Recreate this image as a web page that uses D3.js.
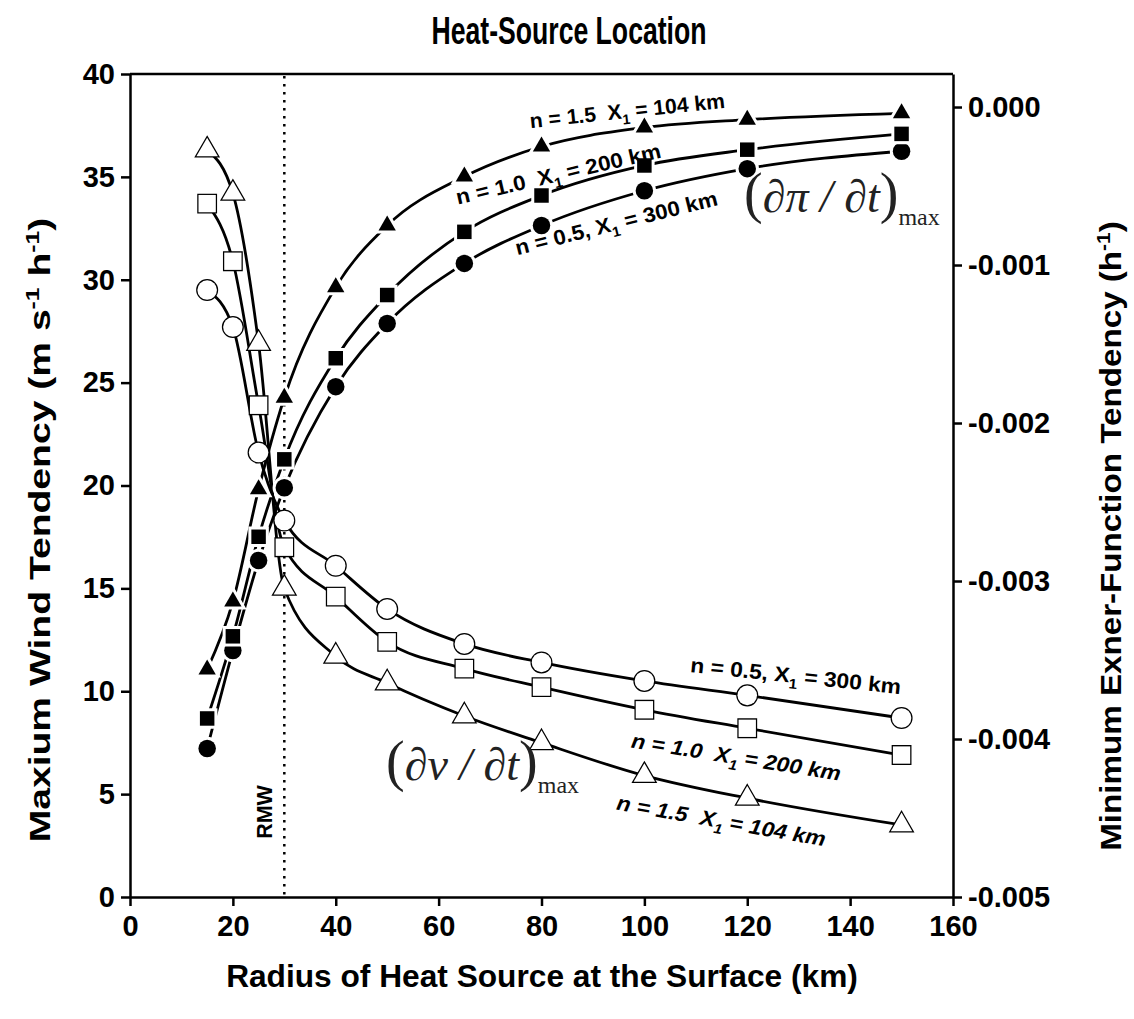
<!DOCTYPE html>
<html>
<head>
<meta charset="utf-8">
<script src="https://cdn.jsdelivr.net/npm/d3@7"></script>
<style>
  body { margin: 0; background: #fff; }
  svg { display: block; }
  text { font-family: "Liberation Sans", Arial, sans-serif; fill: #000; white-space: pre; }
</style>
</head>
<body>
<svg id="chart" width="1134" height="1019"></svg>
<script>
// radius of heat source (km)
const radius = [15, 20, 25, 30, 40, 50, 65, 80, 100, 120, 150];

// max wind tendency (m s-1 h-1), open markers, left axis
const windN05 = [29.5, 27.7, 21.6, 18.3, 16.1, 14.0, 12.3, 11.4, 10.5, 9.8, 8.7];
const windN10 = [33.7, 30.9, 23.9, 17.0, 14.6, 12.4, 11.1, 10.2, 9.1, 8.2, 6.9];
const windN15 = [36.3, 34.2, 26.9, 15.0, 11.7, 10.4, 8.8, 7.5, 5.9, 4.8, 3.5];

// min Exner-function tendency (h-1), filled markers, right axis
const exnerN05 = [-0.00406, -0.00344, -0.00287, -0.00241, -0.00177, -0.00137, -0.00099, -0.00075, -0.00053, -0.00039, -0.00028];
const exnerN10 = [-0.00387, -0.00335, -0.00272, -0.00223, -0.00159, -0.00119, -0.00079, -0.00056, -0.00037, -0.00027, -0.00017];
const exnerN15 = [-0.00356, -0.00313, -0.00242, -0.00184, -0.00114, -0.00075, -0.00044, -0.00025, -0.00013, -0.00008, -0.00004];

const xTicks = [0, 20, 40, 60, 80, 100, 120, 140, 160];
const leftTicks = [0, 5, 10, 15, 20, 25, 30, 35, 40];
const rightTicks = [-0.005, -0.004, -0.003, -0.002, -0.001, 0];
const rmw = 30;

const svg = d3.select("#chart");

const x = d3.scaleLinear().domain([0, 160]).range([130, 953]);
const yL = d3.scaleLinear().domain([0, 40]).range([897, 74]);
const yR = d3.scaleLinear().domain([-0.005, 0.000209]).range([897, 74]);

/**
 * Style an axis group like the reference (thick black lines, bold labels)
 */
function styleAxis(g) {
    g.select(".domain").attr("stroke", "#000").attr("stroke-width", 2.5);
    g.selectAll(".tick line").attr("stroke", "#000").attr("stroke-width", 2.5);
    g.selectAll(".tick text")
        .attr("fill", "#000")
        .style("font-family", "'Liberation Sans', Arial, sans-serif")
        .style("font-weight", "bold")
        .style("font-size", "29px");
}

/**
 * Squeeze or stretch a text along its own direction to a given length
 */
function placeText(sel, cx, cy, angle, len) {
    const w = sel.node().getBBox().width;
    const s = len ? len / w : 1;
    sel.attr("text-anchor", "middle")
        .attr("transform", `translate(${cx},${cy}) rotate(${angle}) scale(${s},1)`);
    return sel;
}

svg.append("g")
    .attr("transform", "translate(0,897)")
    .call(d3.axisBottom(x).tickValues(xTicks).tickSize(9).tickSizeOuter(0).tickPadding(9))
    .call(styleAxis);

svg.append("g")
    .attr("transform", "translate(130,0)")
    .call(d3.axisLeft(yL).tickValues(leftTicks).tickSize(9).tickSizeOuter(0).tickPadding(6))
    .call(styleAxis);

svg.append("g")
    .attr("transform", "translate(953,0)")
    .call(d3.axisRight(yR).tickValues(rightTicks).tickSize(9).tickSizeOuter(0).tickPadding(6)
        .tickFormat((d) => (d === 0 ? "0.000" : d.toFixed(3))))
    .call(styleAxis);

// top frame line
svg.append("line")
    .attr("x1", 130).attr("x2", 953).attr("y1", 74).attr("y2", 74)
    .attr("stroke", "#000").attr("stroke-width", 2.5);

// RMW dotted line
svg.append("line")
    .attr("x1", x(rmw)).attr("x2", x(rmw)).attr("y1", 76).attr("y2", 895)
    .attr("stroke", "#000").attr("stroke-width", 2.5)
    .attr("stroke-dasharray", "2.5,5.5");

placeText(svg.append("text")
    .style("font-weight", "bold").style("font-size", "22px")
    .text("RMW"), x(rmw) - 12, 812, -90, 54);

// series
const series = [
    { vals: windN05, y: yL, shape: d3.symbolCircle, size: 300, open: true },
    { vals: windN10, y: yL, shape: d3.symbolSquare, size: 300, open: true },
    { vals: windN15, y: yL, shape: d3.symbolTriangle, size: 200, open: true },
    { vals: exnerN05, y: yR, shape: d3.symbolCircle, size: 240, open: false },
    { vals: exnerN10, y: yR, shape: d3.symbolSquare, size: 210, open: false },
    { vals: exnerN15, y: yR, shape: d3.symbolTriangle, size: 130, open: false },
];

const lineLayer = svg.append("g");
const markLayer = svg.append("g");

series.forEach((s) => {
    const pts = radius.map((r, i) => [x(r), s.y(s.vals[i])]);
    lineLayer.append("path")
        .attr("d", d3.line().curve(d3.curveMonotoneX)(pts))
        .attr("fill", "none")
        .attr("stroke", "#000")
        .attr("stroke-width", 2.8);

    markLayer.selectAll(null)
        .data(pts)
        .enter()
        .append("path")
        .attr("transform", (d) => `translate(${d[0]},${d[1]})`)
        .attr("d", d3.symbol().type(s.shape).size(s.size))
        .attr("fill", s.open ? "#fff" : "#000")
        .attr("stroke", s.open ? "#000" : "#fff")
        .attr("stroke-width", s.open ? 2.5 : 6)
        .style("paint-order", "stroke");
});

// curve labels
function curveLabel(cx, cy, angle, head, x1, italic, len) {
    const t = svg.append("text")
        .style("font-weight", "bold")
        .style("font-size", "21px")
        .style("font-style", italic ? "italic" : "normal");
    t.append("tspan").text(`${head}X`);
    t.append("tspan").attr("dy", 6).style("font-size", "14px").text("1");
    t.append("tspan").attr("dy", -6).text(` = ${x1} km`);
    placeText(t, cx, cy, angle, len);
}

curveLabel(628, 118, -6, "n = 1.5  ", "104", false, 196);
curveLabel(560, 181, -13, "n = 1.0  ", "200", false, 210);
curveLabel(618, 230, -14, "n = 0.5, ", "300", false, 208);
curveLabel(795, 683, 6, "n = 0.5, ", "300", false, 212);
curveLabel(735, 764, 9, "n = 1.0  ", "200", true, 212);
curveLabel(720, 828, 10, "n = 1.5  ", "104", true, 212);

// derivative labels
function mathLabel(px, py, sym) {
    const t = svg.append("text")
        .attr("x", px).attr("y", py)
        .style("font-family", "'Liberation Serif', 'Times New Roman', serif")
        .style("fill", "#222");
    t.append("tspan").style("font-size", "56px").text("(");
    t.append("tspan").style("font-size", "46px").style("font-style", "italic").text(`\u2202${sym} / \u2202t`);
    t.append("tspan").style("font-size", "56px").text(")");
    t.append("tspan").attr("dy", 13).style("font-size", "24px").text("max");
}

mathLabel(744, 212, "\u03c0");
mathLabel(386, 780, "v");

// titles
placeText(svg.append("text")
    .style("font-weight", "bold").style("font-size", "38px")
    .text("Heat-Source Location"), 569, 44, 0, 275);

placeText(svg.append("text")
    .style("font-weight", "bold").style("font-size", "31px")
    .text("Radius of Heat Source at the Surface (km)"), 542, 987, 0, 632);

const yt = svg.append("text")
    .style("font-weight", "bold").style("font-size", "30px");
yt.append("tspan").text("Maxium Wind Tendency (m s");
yt.append("tspan").attr("dy", -11).style("font-size", "19px").text("-1");
yt.append("tspan").attr("dy", 11).text(" h");
yt.append("tspan").attr("dy", -11).style("font-size", "19px").text("-1");
yt.append("tspan").attr("dy", 11).text(")");
placeText(yt, 50, 530, -90, 625);

const rt = svg.append("text")
    .style("font-weight", "bold").style("font-size", "30px");
rt.append("tspan").text("Minimum Exner-Function Tendency (h");
rt.append("tspan").attr("dy", -11).style("font-size", "19px").text("-1");
rt.append("tspan").attr("dy", 11).text(")");
placeText(rt, 1121, 536, -90, 630);
</script>
</body>
</html>
